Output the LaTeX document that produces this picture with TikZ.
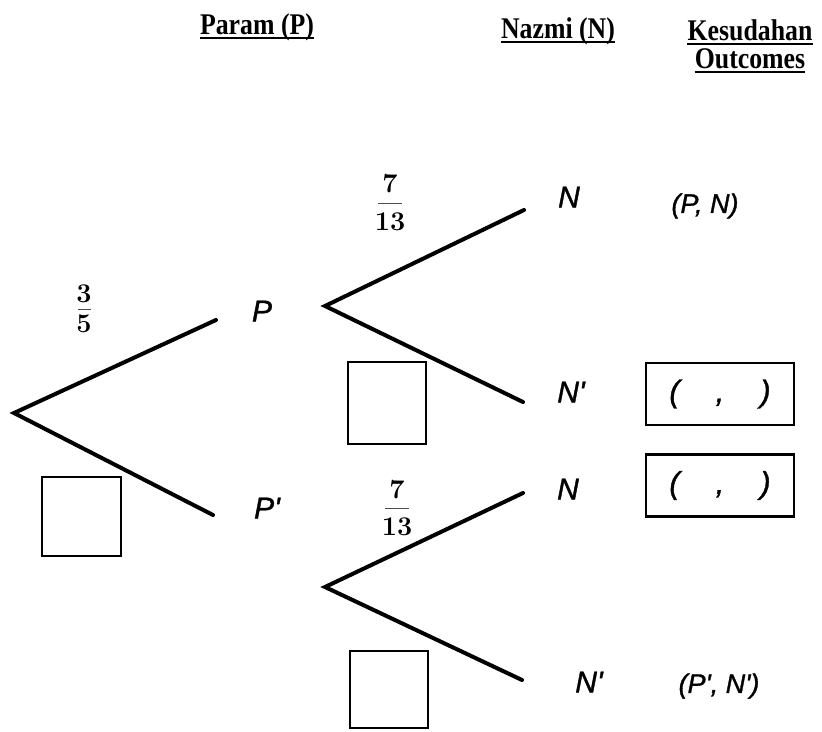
\documentclass[tikz,border=0pt]{standalone}
\usepackage{fontspec}
\newfontfamily\hdrfont{Liberation Serif}
\newfontfamily\lblfont[ItalicFeatures={FakeBold=1.2}]{Liberation Sans}
\newcommand\hdrtext[1]{\scalebox{0.86}[1]{#1}}
\begin{document}
\begin{tikzpicture}[x=1pt,y=-1pt,
  branch/.style={line width=4pt, line cap=round},
  ansbox/.style={draw, line width=2.4pt, inner sep=0},
  outbox/.style={draw, line width=2.4pt, minimum width=148pt, minimum height=62pt, inner sep=0,
     font=\lblfont\itshape\fontsize{31}{34}\selectfont},
  lbl/.style={font=\lblfont\itshape\fontsize{30}{34}\selectfont, inner sep=0},
  outtxt/.style={font=\lblfont\itshape\fontsize{27}{30}\selectfont, inner sep=0},
  hdr/.style={font=\hdrfont\bfseries\fontsize{30}{32}\selectfont, inner sep=0, anchor=base},
  ul/.style={line width=2.6pt},
  digit/.style={font=\bfseries\fontsize{27}{30}\selectfont, inner sep=0},
  fbar/.style={fill=black!70, inner sep=0, minimum height=0.9pt}]
\useasboundingbox (0,0) rectangle (822,731);

% headers
\node[hdr] (h1) at (257,34) {\hdrtext{Param (P)}};
\node[hdr] (h2) at (558,38) {\hdrtext{Nazmi (N)}};
\node[hdr] (h3) at (750,40) {\hdrtext{Kesudahan}};
\node[hdr] (h4) at (750,68) {\hdrtext{Outcomes}};
\foreach \h in {h1,h2,h3,h4}
  \draw[ul] ([yshift=-4pt]\h.base west) -- ([yshift=-4pt]\h.base east);

% first stage
\coordinate (root) at (14,413);
\coordinate (pEnd) at (216,320);
\coordinate (ppEnd) at (213,515);
\draw[branch] (pEnd) -- (root) -- (ppEnd);
\node[lbl] (P) at (262,311) {P};
\node[lbl] (Pp) at (267,508) {P'};
\node[digit] (f1n) at (84,293.5) {3};
\node[fbar, minimum width=13pt] (f1b) at (84,309) {};
\node[digit] (f1d) at (84,324) {5};
\node[ansbox, minimum width=79pt, minimum height=79pt] (b1) at (81.5,516.5) {};

% second stage, top
\coordinate (v1) at (325,306);
\coordinate (nEnd1) at (524,210);
\coordinate (npEnd1) at (523,402);
\draw[branch] (nEnd1) -- (v1) -- (npEnd1);
\node[lbl] (N1) at (569,197) {N};
\node[lbl] (Np1) at (571,392) {N'};
\node[digit] (f2n) at (390,184) {7};
\node[fbar, minimum width=24pt] (f2b) at (390,203) {};
\node[digit] (f2d) at (390,222) {13};
\node[ansbox, minimum width=78pt, minimum height=82pt] (b2) at (387,403) {};

% second stage, bottom
\coordinate (v2) at (325,587);
\coordinate (nEnd2) at (523,493);
\coordinate (npEnd2) at (522,680);
\draw[branch] (nEnd2) -- (v2) -- (npEnd2);
\node[lbl] (N2) at (568,489) {N};
\node[lbl] (Np2) at (589,682) {N'};
\node[digit] (f3n) at (397,490) {7};
\node[fbar, minimum width=24pt] (f3b) at (397,508) {};
\node[digit] (f3d) at (397,527) {13};
\node[ansbox, minimum width=78pt, minimum height=77pt] (b3) at (389,689.5) {};

% outcomes
\node[outtxt] (o1) at (705,206) {(P, N)};
\node[outbox] (o2) at (720,394) {(\hspace{36pt},\hspace{36pt})};
\node[outbox] (o3) at (720,485.5) {(\hspace{36pt},\hspace{36pt})};
\node[outtxt] (o4) at (719,686) {(P', N')};
\end{tikzpicture}
\end{document}
